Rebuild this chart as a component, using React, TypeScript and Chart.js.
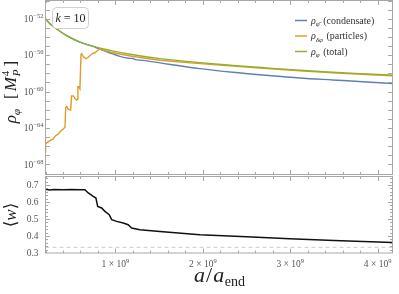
import { useEffect, useRef } from "react";
import { Chart, registerables } from "chart.js";
Chart.register(...registerables);

const BLUE = "#5E81B5";
const ORANGE = "#E19C24";
const GREEN = "#8FB032";
const SERIF = '"Liberation Serif", "DejaVu Serif", serif';

// ---- top panel: log10 of energy densities vs a/a_end (units of 1e9) ----
const xTotal = [0.2, 0.251, 0.328, 0.442, 0.594, 0.746, 0.937, 1.203, 1.509, 1.966, 2.343, 2.731, 3.109, 3.486, 3.874, 4.17];
const logTotal = [-52.0, -52.55, -53.13, -53.86, -54.56, -55.04, -55.47, -55.95, -56.38, -56.82, -57.12, -57.4, -57.66, -57.88, -58.06, -58.2];

const xCond = [0.2, 0.251, 0.328, 0.442, 0.594, 0.746, 0.785, 0.937, 1.051, 1.166, 1.2, 1.22, 1.314, 1.509, 1.966, 2.343, 2.731, 3.109, 3.486, 3.874, 4.17];
const logCond = [-52.0, -52.55, -53.13, -53.86, -54.56, -55.04, -55.21, -55.76, -56.13, -56.35, -56.36, -56.46, -56.57, -56.85, -57.48, -57.88, -58.21, -58.5, -58.72, -58.94, -59.12];

const xPart = [0.2, 0.2, 0.202, 0.232, 0.289, 0.309, 0.346, 0.366, 0.403, 0.423, 0.431, 0.442, 0.461, 0.488, 0.499, 0.518, 0.537, 0.557, 0.563, 0.571, 0.583, 0.594, 0.606, 0.614, 0.632, 0.663, 0.682, 0.709, 0.739, 0.766, 0.785, 0.808, 0.823, 0.937, 1.051, 1.203, 1.509, 1.966, 2.343, 2.731, 3.109, 3.486, 3.874, 4.17];
const logPart = [-66.6, -66.1, -65.74, -65.49, -65.2, -64.9, -64.65, -64.4, -64.1, -63.92, -61.74, -61.63, -61.92, -62.03, -60.47, -60.47, -60.76, -60.94, -60.83, -59.45, -59.45, -59.67, -55.93, -55.85, -56.18, -56.39, -56.29, -56.03, -55.82, -55.74, -55.57, -55.38, -55.33, -55.65, -55.87, -56.14, -56.56, -56.93, -57.2, -57.47, -57.73, -57.95, -58.12, -58.26];

// ---- bottom panel: <w> ----
const xW = [0.2, 0.25, 0.3, 0.4, 0.5, 0.6, 0.651, 0.689, 0.746, 0.777, 0.797, 0.842, 0.88, 0.929, 0.957, 1.014, 1.089, 1.146, 1.185, 1.28, 1.509, 1.966, 2.5, 2.994, 3.5, 4.17];
const wVals = [0.675, 0.671, 0.674, 0.672, 0.673, 0.672, 0.672, 0.653, 0.633, 0.623, 0.574, 0.565, 0.545, 0.525, 0.496, 0.486, 0.476, 0.466, 0.447, 0.437, 0.427, 0.407, 0.396, 0.384, 0.374, 0.362];
const xRef = [0.2, 4.17];
const wRef = [1 / 3, 1 / 3];

// ---- axes / ticks ----
const X_MIN = 0.2;
const X_MAX = 4.17;
const xMajorTicks = [1, 2, 3, 4];
const xTickMantissa = ["1", "2", "3", "4"];
const rhoMajorExp = [-68, -64, -60, -56, -52];
const LOG_MIN = -69.1;
const LOG_MAX = -50;
const wTicks = [0.3, 0.4, 0.5, 0.6, 0.7];
const W_MIN = 0.3;
const W_MAX = 0.75;

const legendSubs = ["\u03C6\u0304", "\u03B4\u03C6", "\u03C6"];
const legendNames = ["(condensate)", "(particles)", "(total)"];

function steps(a: number, b: number, s: number) {
  const out: number[] = [];
  for (let v = a; v <= b + 1e-9; v += s) out.push(+v.toFixed(6));
  return out;
}

type Run = { t: string; f: string; dy?: number; dx?: number; back?: boolean };

function drawRuns(ctx: CanvasRenderingContext2D, runs: Run[], x: number, y: number, align: "left" | "center" | "right") {
  let w = 0;
  let lastStart = 0;
  for (const r of runs) {
    ctx.font = r.f;
    const rw = ctx.measureText(r.t).width;
    let start = w + (r.dx || 0);
    if (r.back) start = lastStart;
    lastStart = start;
    w = Math.max(w, start + rw);
  }
  const x0 = align === "left" ? x : align === "center" ? x - w / 2 : x - w;
  ctx.textAlign = "left";
  ctx.textBaseline = "alphabetic";
  let cur = 0;
  lastStart = 0;
  for (const r of runs) {
    ctx.font = r.f;
    const rw = ctx.measureText(r.t).width;
    let start = cur + (r.dx || 0);
    if (r.back) start = lastStart;
    lastStart = start;
    ctx.fillText(r.t, x0 + start, y + (r.dy || 0));
    cur = Math.max(cur, start + rw);
  }
}

function framePlugin(cfg: { xMinor: number[]; xMajor: number[]; yMinor: number[]; yMajor: number[] }) {
  return {
    id: "frame",
    afterDatasetsDraw(chart: any) {
      const { ctx, chartArea: a, scales } = chart;
      const xs = scales.x;
      const ys = scales.y;
      ctx.save();
      ctx.strokeStyle = "#a8a8a8";
      ctx.lineWidth = 1;
      ctx.strokeRect(a.left, a.top, a.right - a.left, a.bottom - a.top);
      ctx.beginPath();
      const isMaj = (arr: number[], v: number) => arr.some((m) => Math.abs(m - v) < 1e-6 * Math.max(1, Math.abs(m)));
      for (const v of cfg.xMinor) {
        const p = Math.round(xs.getPixelForValue(v)) + 0.5;
        if (p < a.left + 1 || p > a.right - 1) continue;
        const L = isMaj(cfg.xMajor, v) ? 4.5 : 2.5;
        ctx.moveTo(p, a.top);
        ctx.lineTo(p, a.top + L);
        ctx.moveTo(p, a.bottom);
        ctx.lineTo(p, a.bottom - L);
      }
      for (const v of cfg.yMinor) {
        const p = Math.round(ys.getPixelForValue(v)) + 0.5;
        if (p < a.top + 1 || p > a.bottom - 1) continue;
        const L = isMaj(cfg.yMajor, v) ? 4.5 : 2.5;
        ctx.moveTo(a.left, p);
        ctx.lineTo(a.left + L, p);
        ctx.moveTo(a.right, p);
        ctx.lineTo(a.right - L, p);
      }
      ctx.stroke();
      ctx.restore();
    },
  };
}

const topDeco = {
  id: "topDeco",
  afterDraw(chart: any) {
    const { ctx, scales } = chart;
    const ys = scales.y;
    ctx.save();
    ctx.fillStyle = "#555";
    for (const e of rhoMajorExp) {
      const py = ys.getPixelForValue(Math.pow(10, e));
      drawRuns(
        ctx,
        [
          { t: "10", f: `9.5px ${SERIF}` },
          { t: "\u2212" + String(-e), f: `6.5px ${SERIF}`, dy: -4 },
        ],
        43.5,
        py + 3.3,
        "right"
      );
    }
    // k = 10 box
    ctx.fillStyle = "#fff";
    ctx.strokeStyle = "#cfcfcf";
    ctx.lineWidth = 1;
    ctx.beginPath();
    (ctx as any).roundRect(52.5, 7.5, 36, 21, 4);
    ctx.fill();
    ctx.stroke();
    ctx.fillStyle = "#222";
    drawRuns(
      ctx,
      [
        { t: "k", f: `italic 12px ${SERIF}` },
        { t: " = 10", f: `12px ${SERIF}` },
      ],
      70.5,
      22,
      "center"
    );
    // legend
    const ds = chart.data.datasets;
    const legY = [20, 35.5, 51];
    for (let i = 0; i < 3; i++) {
      ctx.strokeStyle = ds[i].borderColor;
      ctx.lineWidth = 1.5;
      ctx.beginPath();
      ctx.moveTo(295, legY[i] + 0.5);
      ctx.lineTo(307, legY[i] + 0.5);
      ctx.stroke();
      ctx.fillStyle = "#333";
      drawRuns(
        ctx,
        [
          { t: "\u03C1", f: `italic 10px ${SERIF}` },
          { t: legendSubs[i], f: `italic 7px ${SERIF}`, dy: 2.5 },
          { t: " " + legendNames[i], f: `10px ${SERIF}`, dx: 1 },
        ],
        311,
        legY[i] + 3.5,
        "left"
      );
    }
    // y title
    ctx.fillStyle = "#222";
    ctx.translate(16, 92);
    ctx.rotate(-Math.PI / 2);
    drawRuns(
      ctx,
      [
        { t: "\u03C1", f: `italic 17px ${SERIF}` },
        { t: "\u03C6", f: `italic 11px ${SERIF}`, dy: 3.5 },
        { t: "[", f: `17px ${SERIF}`, dx: 10 },
        { t: "M", f: `italic 17px ${SERIF}`, dx: 2 },
        { t: "P", f: `italic 11px ${SERIF}`, dy: 3.5, dx: 1 },
        { t: "4", f: `11px ${SERIF}`, dy: -7, back: true },
        { t: "]", f: `17px ${SERIF}`, dx: 3 },
      ],
      0,
      0,
      "center"
    );
    ctx.restore();
  },
};

const bottomDeco = {
  id: "bottomDeco",
  afterDraw(chart: any) {
    const { ctx, scales } = chart;
    const xs = scales.x;
    ctx.save();
    ctx.fillStyle = "#555";
    xMajorTicks.forEach((v, i) => {
      const px = xs.getPixelForValue(v);
      drawRuns(
        ctx,
        [
          { t: xTickMantissa[i] + " \u00D7 10", f: `9.5px ${SERIF}` },
          { t: "9", f: `6.5px ${SERIF}`, dy: -4 },
        ],
        px,
        90.5,
        "center"
      );
    });
    ctx.fillStyle = "#222";
    drawRuns(
      ctx,
      [
        { t: "a", f: `italic 22px ${SERIF}` },
        { t: "/", f: `22px ${SERIF}`, dx: 1 },
        { t: "a", f: `italic 22px ${SERIF}`, dx: 1 },
        { t: "end", f: `14px ${SERIF}`, dy: 3.5, dx: 0.5 },
      ],
      219.5,
      106,
      "center"
    );
    ctx.translate(16, 39);
    ctx.rotate(-Math.PI / 2);
    drawRuns(
      ctx,
      [
        { t: "\u27E8", f: `17px ${SERIF}` },
        { t: "w", f: `italic 17px ${SERIF}` },
        { t: "\u27E9", f: `17px ${SERIF}` },
      ],
      0,
      0,
      "center"
    );
    ctx.restore();
  },
};

const xMinorAll = steps(0.2, 4.2, 0.2);

export default function App() {
  const topRef = useRef<HTMLCanvasElement>(null);
  const botRef = useRef<HTMLCanvasElement>(null);

  useEffect(() => {
    const toPts = (xs: number[], ls: number[]) => xs.map((x, i) => ({ x, y: Math.pow(10, ls[i]) }));
    const c1 = new Chart(topRef.current!, {
      type: "line",
      data: {
        datasets: [
          { label: "condensate", data: toPts(xCond, logCond), borderColor: BLUE, borderWidth: 1.4, pointRadius: 0, cubicInterpolationMode: "monotone", order: 3 },
          { label: "particles", data: toPts(xPart, logPart), borderColor: ORANGE, borderWidth: 1.4, pointRadius: 0, tension: 0, order: 2 },
          { label: "total", data: toPts(xTotal, logTotal), borderColor: GREEN, borderWidth: 1.4, pointRadius: 0, cubicInterpolationMode: "monotone", order: 1 },
        ],
      },
      options: {
        animation: false,
        responsive: false,
        maintainAspectRatio: false,
        layout: { padding: { left: 45.5, right: 6.5, top: 0.5, bottom: 1.5 } },
        plugins: { legend: { display: false }, tooltip: { enabled: false } },
        scales: {
          x: { type: "linear", min: X_MIN, max: X_MAX, display: false },
          y: { type: "logarithmic", min: Math.pow(10, LOG_MIN), max: Math.pow(10, LOG_MAX), display: false },
        },
      } as any,
      plugins: [
        framePlugin({
          xMinor: xMinorAll,
          xMajor: xMajorTicks,
          yMinor: steps(-69, -50, 1).map((e) => Math.pow(10, e)),
          yMajor: rhoMajorExp.map((e) => Math.pow(10, e)),
        }),
        topDeco,
      ],
    });

    const c2 = new Chart(botRef.current!, {
      type: "line",
      data: {
        datasets: [
          { label: "w", data: xW.map((x, i) => ({ x, y: wVals[i] })), borderColor: "#111", borderWidth: 1.5, pointRadius: 0, tension: 0, order: 1 },
          { label: "ref", data: xRef.map((x, i) => ({ x, y: wRef[i] })), borderColor: "#cccccc", borderWidth: 1, borderDash: [4, 3], pointRadius: 0, order: 2 },
        ],
      },
      options: {
        animation: false,
        responsive: false,
        maintainAspectRatio: false,
        layout: { padding: { left: 0, right: 6.5, top: 0.5, bottom: 41 } },
        plugins: { legend: { display: false }, tooltip: { enabled: false } },
        scales: {
          x: { type: "linear", min: X_MIN, max: X_MAX, display: false },
          y: {
            type: "linear",
            min: W_MIN,
            max: W_MAX,
            afterBuildTicks: (s: any) => {
              s.ticks = wTicks.map((v) => ({ value: v }));
            },
            afterFit: (s: any) => {
              s.width = 45.5;
              s.paddingTop = 0;
              s.paddingBottom = 0;
            },
            ticks: {
              callback: (v: any) => Number(v).toFixed(1),
              font: { family: SERIF, size: 9.5 },
              color: "#555",
              padding: 7,
            },
            grid: { display: false, drawTicks: false },
            border: { display: false },
          },
        },
      } as any,
      plugins: [
        framePlugin({
          xMinor: xMinorAll,
          xMajor: xMajorTicks,
          yMinor: steps(0.3, 0.75, 0.02),
          yMajor: wTicks,
        }),
        bottomDeco,
      ],
    });

    return () => {
      c1.destroy();
      c2.destroy();
    };
  }, []);

  return (
    <div style={{ position: "fixed", left: 0, top: 0, width: 399, height: 294, background: "#fff" }}>
      <canvas ref={topRef} width={399} height={176} style={{ position: "absolute", left: 0, top: 0, width: 399, height: 176 }} />
      <canvas ref={botRef} width={399} height={118} style={{ position: "absolute", left: 0, top: 176, width: 399, height: 118 }} />
    </div>
  );
}
